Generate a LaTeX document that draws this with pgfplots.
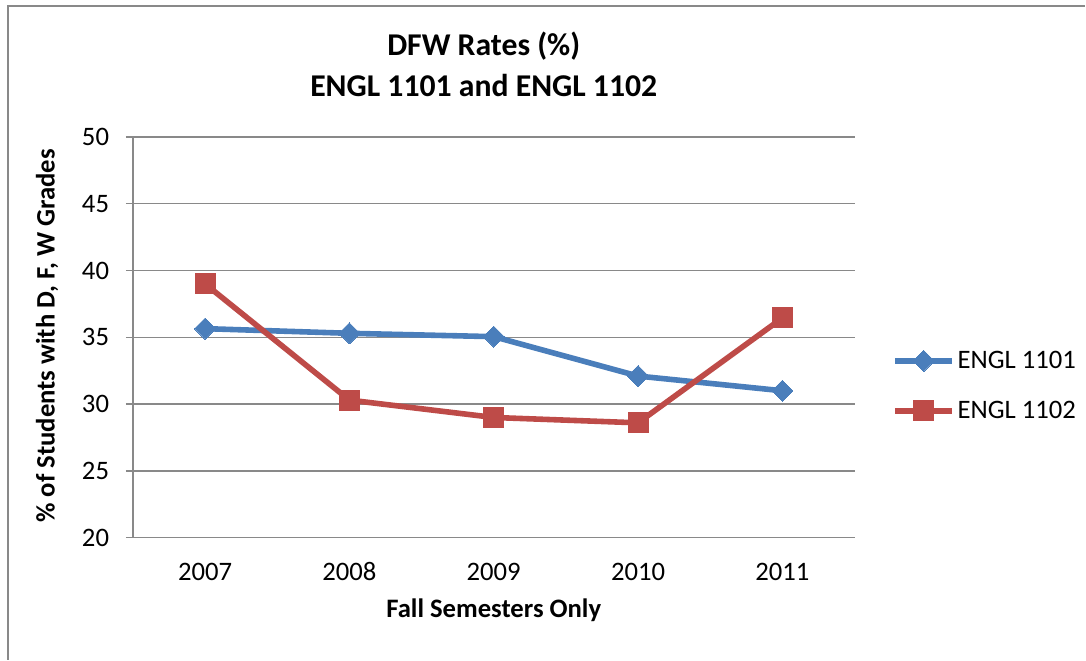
\documentclass[border=0pt]{standalone}
\usepackage{pgfplots}
\pgfplotsset{compat=1.18}
\usepackage{fontspec}
\setmainfont{Carlito}
\definecolor{blueS}{HTML}{4A7EBB}
\definecolor{redS}{HTML}{BE4B48}
\definecolor{gridc}{HTML}{898989}
\begin{document}
\begin{tikzpicture}
\begin{scope}[x=0.75pt,y=-0.75pt]
\path (0,0) rectangle (1086,660);
\draw[gridc, line width=0.9pt] (8,660) -- (8,6) -- (1086,6);
\node[font=\fontsize{23.8}{28}\selectfont\bfseries, anchor=base, inner sep=0pt] at (484,56) {DFW Rates (\%)};
\node[font=\fontsize{23.8}{28}\selectfont\bfseries, anchor=base, inner sep=0pt] at (484,97) {ENGL 1101 and ENGL 1102};
\node[font=\fontsize{20}{24}\selectfont\bfseries, rotate=90, inner sep=0pt] at (47,336) {\% of Students with D, F, W Grades};
\node[font=\fontsize{20}{24}\selectfont\bfseries, anchor=base, inner sep=0pt] at (494,618) {Fall Semesters Only};
\end{scope}
\begin{axis}[
  at={(99.75pt,-403.5pt)}, anchor=south west,
  scale only axis, width=541.5pt, height=300.75pt,
  xmin=-0.5, xmax=4.5, ymin=20, ymax=50,
  ytick={20,25,...,50},
  xtick={0,1,2,3,4},
  xticklabels={2007,2008,2009,2010,2011},
  minor xtick={-0.5,0.5,...,4.5},
  axis lines*=left,
  axis line style={gridc, line width=1pt},
  tick align=outside,
  major tick length=5.25pt,
  minor tick length=5.25pt,
  xtick style={draw=none},
  minor tick style={gridc, line width=1pt, draw=gridc},
  ytick style={gridc, line width=1pt},
  ymajorgrids,
  grid style={gridc, line width=1pt},
  /pgf/number format/assume math mode=true,
  tick label style={font=\fontsize{20}{24}\selectfont, text=black},
  yticklabel style={inner sep=0pt, xshift=-12.5pt},
  xticklabel style={inner sep=0pt, anchor=base, yshift=-26.5pt},
  legend style={at={(rel axis cs:1.052,0.379)}, anchor=west, draw=none, fill=none,
    font=\fontsize{20}{24}\selectfont, row sep=19pt, inner sep=0pt},
  legend cell align=left,
  legend image code/.code={\draw[#1,mark repeat=2,mark phase=2] plot coordinates {(0pt,0pt) (21.4pt,0pt) (42.8pt,0pt)};},
]
\addplot[blueS, line width=4.2pt, mark=square*, mark size=5.6pt, mark options={rotate=45, fill=blueS, draw=blueS, line width=0pt}]
  coordinates {(0,35.65) (1,35.3) (2,35.05) (3,32.1) (4,31.0)};
\addlegendentry{ENGL 1101}
\addplot[redS, line width=4.2pt, mark=square*, mark size=7.5pt, mark options={fill=redS, draw=redS, line width=0pt}]
  coordinates {(0,39.0) (1,30.3) (2,29.0) (3,28.6) (4,36.45)};
\addlegendentry{ENGL 1102}
\end{axis}
\end{tikzpicture}
\end{document}
